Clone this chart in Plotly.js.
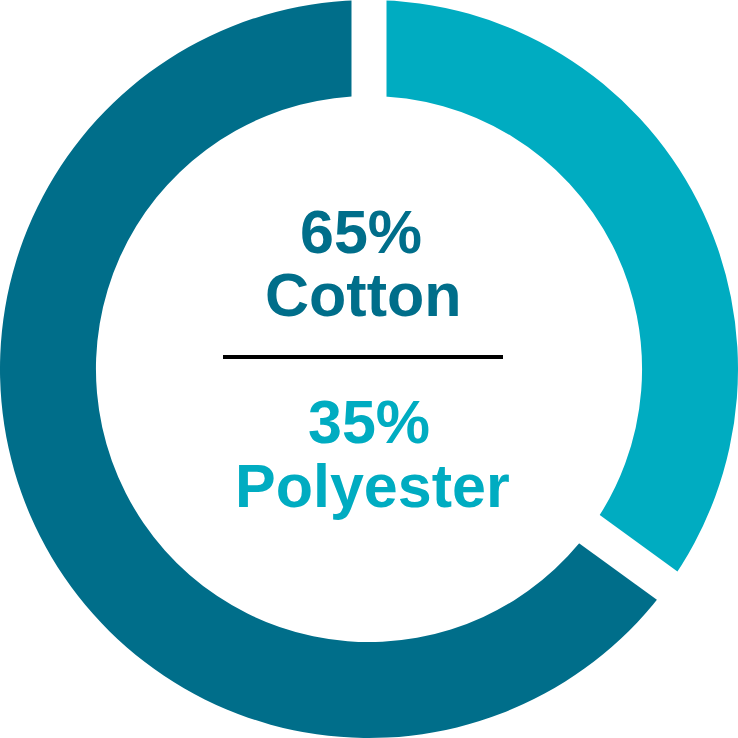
<!DOCTYPE html>
<html><head><meta charset="utf-8">
<script src="https://cdn.plot.ly/plotly-3.0.1.min.js"></script>
<style>html,body{margin:0;padding:0;background:#fff}#chart{width:738px;height:738px}</style>
</head><body><div id="chart"></div>
<script>
const labels = ["Polyester", "Cotton"];
const values = [35, 65];
const colors = ["#00ACC1", "#006E8A"];

const W = 738, H = 738;
const total = values.reduce((a,b)=>a+b,0);
// gap lines along slice boundaries (clockwise from 12 o'clock)
const shapes = [];
let cum = 0;
for (let i = 0; i < values.length; i++) {
  const ang = cum / total * 2 * Math.PI;
  const sx = Math.sin(ang), sy = Math.cos(ang);
  const r0 = 240, r1 = 420;
  shapes.push({type:'line', xref:'paper', yref:'paper', layer:'above',
    x0: 0.5 + r0*sx/W, y0: 0.5 + r0*sy/H, x1: 0.5 + r1*sx/W, y1: 0.5 + r1*sy/H,
    line:{color:'#ffffff', width:35}});
  cum += values[i];
}
// divider
shapes.push({type:'line', xref:'paper', yref:'paper', layer:'above',
  x0: 223/W, x1: 503/W, y0: 1-357/H, y1: 1-357/H, line:{color:'#000000', width:4}});

const font = 'Liberation Sans, Arial, sans-serif';
function ann(text, xpx, ypx, color){
  return {text:'<b>'+text+'</b>', xref:'paper', yref:'paper', x:xpx/W, y:1-ypx/H,
    xanchor:'center', yanchor:'middle', showarrow:false,
    font:{family:font, size:61, color:color}};
}
const annotations = [
  ann(values[1]+'%', 361, 232, colors[1]),
  ann(labels[1], 363, 295, colors[1]),
  ann(values[0]+'%', 369, 422, colors[0]),
  ann(labels[0], 372, 486, colors[0])
];

Plotly.newPlot('chart', [{
  type:'pie', labels:labels, values:values, hole:0.74, sort:false,
  direction:'clockwise', rotation:0, textinfo:'none', hoverinfo:'label+percent',
  marker:{colors:colors, line:{width:0}}, domain:{x:[0,1], y:[0,1]}
}], {
  width:W, height:H, margin:{l:0,r:0,t:0,b:0}, showlegend:false,
  paper_bgcolor:'#ffffff', shapes:shapes, annotations:annotations
}, {displayModeBar:false, staticPlot:true});
</script></body></html>
